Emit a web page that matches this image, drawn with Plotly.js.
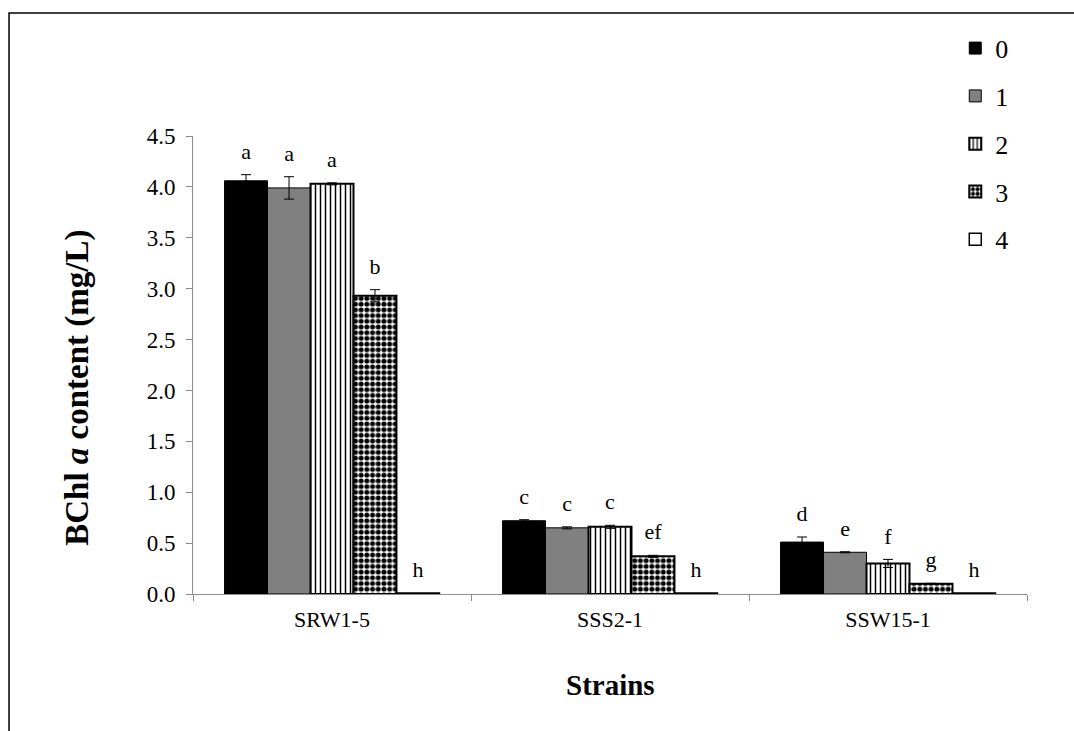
<!DOCTYPE html>
<html>
<head>
<meta charset="utf-8">
<script src="https://cdn.plot.ly/plotly-3.0.1.min.js"></script>
<style>html,body{margin:0;padding:0;background:#fff;}#chart{width:1074px;height:731px;}</style>
</head>
<body>
<div id="chart"></div>
<script>
const strains = ['SRW1-5', 'SSS2-1', 'SSW15-1'];
const seriesNames = ['0', '1', '2', '3', '4'];
const values = [
  [4.06, 0.72, 0.51],
  [3.99, 0.65, 0.41],
  [4.03, 0.66, 0.30],
  [2.93, 0.37, 0.10],
  [0.01, 0.01, 0.01]
];
const errors = [
  [0.06, 0.01, 0.05],
  [0.11, 0.01, 0.005],
  [0.01, 0.015, 0.04],
  [0.06, 0.01, 0.005],
  [0, 0, 0]
];
const letters = [
  ['a', 'c', 'd'],
  ['a', 'c', 'e'],
  ['a', 'c', 'f'],
  ['b', 'ef', 'g'],
  ['h', 'h', 'h']
];
const yTitle = '<b>BChl <i>a</i> content (mg/L)</b>';
const xTitle = '<b>Strains</b>';

const serif = '"Liberation Serif", serif';
const styles = [
  {color: '#000000', line: {color: '#000000', width: 1}},
  {color: '#808080', line: {color: '#000000', width: 1}},
  {color: '#ffffff', line: {color: '#000000', width: 2}, pattern: {shape: '|', fgcolor: '#000000', bgcolor: '#ffffff', size: 5, solidity: 0.3}},
  {color: '#ffffff', line: {color: '#000000', width: 2}, pattern: {shape: '.', fgcolor: '#000000', bgcolor: '#ffffff', size: 5.7, solidity: 0.6}},
  {color: '#ffffff', line: {color: '#000000', width: 1.5}}
];

const traces = [];
seriesNames.forEach((n, i) => {
  traces.push({
    type: 'bar', name: n, x: strains, y: values[i],
    legendgroup: 'g' + i,
    marker: styles[i],
    error_y: {type: 'data', array: errors[i], visible: errors[i].some(v => v > 0), color: '#000000', thickness: 1, width: 5}
  });
});
seriesNames.forEach((n, i) => {
  traces.push({
    type: 'scatter', mode: 'text', x: strains,
    y: values[i].map((v, j) => v + errors[i][j] + 0.21),
    text: letters[i], textposition: 'middle center',
    textfont: {family: serif, size: 22, color: '#000'},
    showlegend: false, hoverinfo: 'skip', cliponaxis: false
  });
});

const layout = {
  width: 1074, height: 731,
  margin: {l: 193, r: 47, t: 136, b: 137},
  paper_bgcolor: '#ffffff', plot_bgcolor: '#ffffff',
  barmode: 'group', bargap: 0.227, bargroupgap: 0,
  scattermode: 'group', scattergap: 0.227,
  showlegend: true,
  legend: {x: 0.914, y: 1.243, xanchor: 'left', yanchor: 'top', font: {family: serif, size: 26, color: '#000'},
           tracegroupgap: 11, itemwidth: 30, bgcolor: 'rgba(0,0,0,0)'},
  font: {family: serif, color: '#000'},
  xaxis: {
    type: 'category', showline: true, linecolor: '#8c8c8c', linewidth: 1,
    ticks: 'outside', tickson: 'boundaries', ticklen: 6, tickcolor: '#8c8c8c',
    tickfont: {family: serif, size: 22, color: '#000'}, ticklabelstandoff: 6,
    showgrid: false, zeroline: false
  },
  yaxis: {
    range: [0, 4.5], dtick: 0.5, tickformat: '.1f',
    showline: true, linecolor: '#8c8c8c', linewidth: 1,
    ticks: 'outside', ticklen: 6, tickcolor: '#8c8c8c',
    tickfont: {family: serif, size: 23, color: '#000'}, ticklabelstandoff: 6,
    showgrid: false, zeroline: false
  },
  annotations: [
    {text: yTitle, xref: 'paper', yref: 'paper', x: -0.138, y: 0.45, textangle: -90,
     showarrow: false, xanchor: 'center', yanchor: 'middle', font: {family: serif, size: 33, color: '#000'}},
    {text: xTitle, xref: 'paper', yref: 'paper', x: 0.5, y: -0.198, 
     showarrow: false, xanchor: 'center', yanchor: 'middle', font: {family: serif, size: 29, color: '#000'}}
  ],
  shapes: [{type: 'rect', xref: 'paper', yref: 'paper', x0: -0.2206, x1: 1.3, y0: -0.5, y1: 1.2686,
            line: {color: '#000000', width: 1.5}, fillcolor: 'rgba(0,0,0,0)', layer: 'below'}]
};

Plotly.newPlot('chart', traces, layout, {displayModeBar: false, staticPlot: true});
</script>
</body>
</html>
